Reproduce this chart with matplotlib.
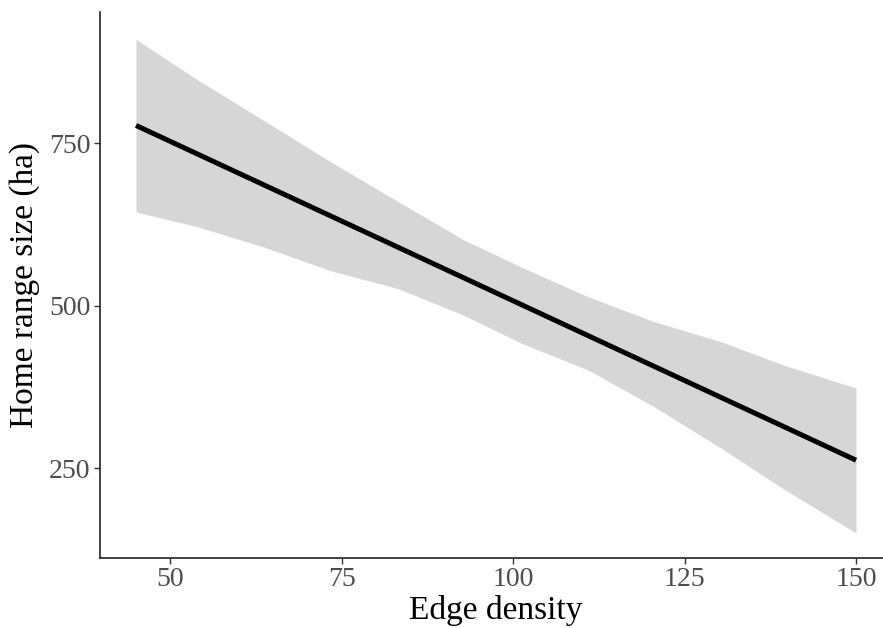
import matplotlib
matplotlib.use("Agg")
import matplotlib.pyplot as plt

# Data
edge_density = [45, 54, 63.6, 73.4, 83.2, 92.8, 101.2, 110.9, 120.6, 130.4, 139.4, 150]
upper = [909.5, 847, 785, 721, 660, 601, 559, 513.5, 475, 444, 408.5, 373]
lower = [644, 621, 590, 553.5, 526, 485, 442, 401, 344, 280, 218, 150]
fit_x = [45, 150]
fit_y = [777, 262]
x_ticks = [50, 75, 100, 125, 150]
y_ticks = [250, 500, 750]

plt.rcParams['font.family'] = ['Liberation Serif', 'DejaVu Serif']

fig = plt.figure(figsize=(8.83, 6.28), dpi=100)
ax = fig.add_axes([100/883, 1-557.7/628, 792/883, (557.7-11.7)/628])

ax.fill_between(edge_density, lower, upper, color='#d6d6d6', linewidth=0)
ax.plot(fit_x, fit_y, color='black', linewidth=3.6, solid_capstyle='butt')

ax.set_xlim(39.75, 155.25)
ax.set_ylim(112, 952)
ax.set_xticks(x_ticks)
ax.set_yticks(y_ticks)
ax.tick_params(axis='both', which='major', direction='out', length=4, width=1,
               color='#333333', labelcolor='#4d4d4d', labelsize=20, pad=3)
for s in ['top', 'right']:
    ax.spines[s].set_visible(False)
for s in ['left', 'bottom']:
    ax.spines[s].set_color('#222222')
    ax.spines[s].set_linewidth(1.2)

ax.set_xlabel('Edge density', fontsize=24, labelpad=2)
ax.set_ylabel('Home range size (ha)', fontsize=24, labelpad=6)

fig.savefig('out.png', dpi=100)
